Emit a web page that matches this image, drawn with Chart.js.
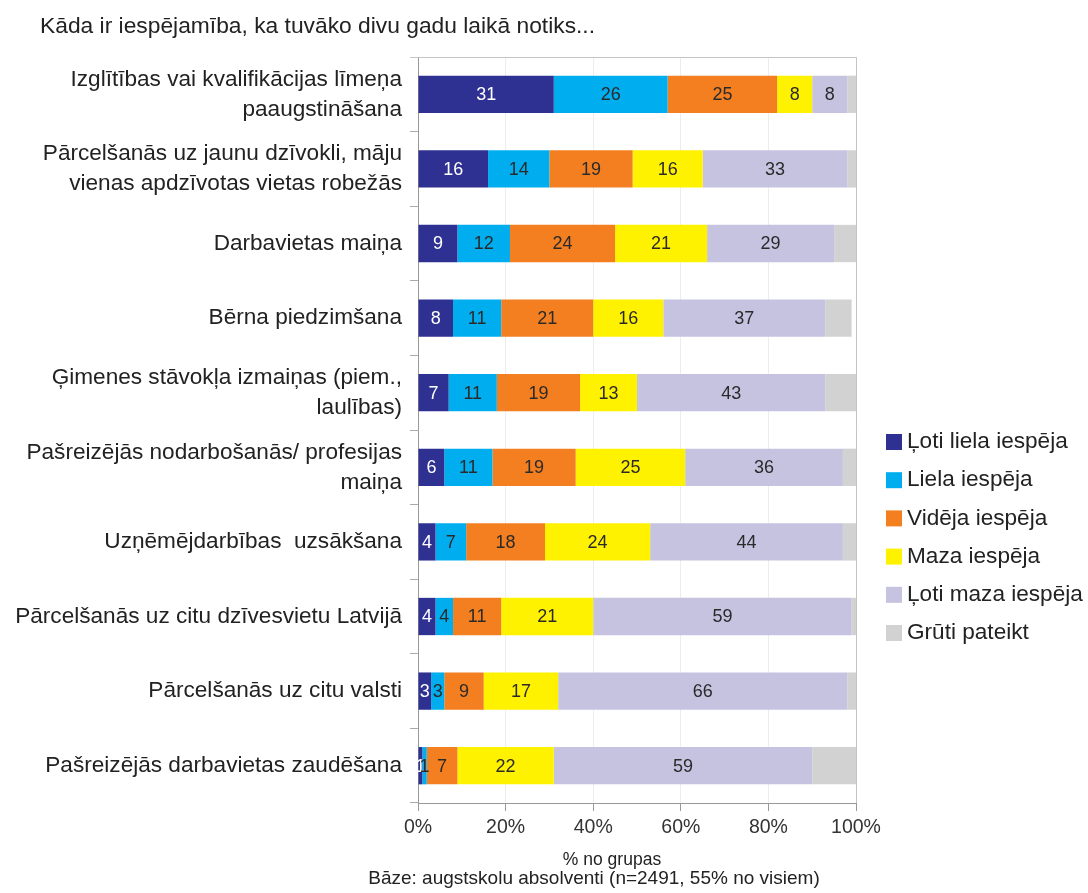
<!DOCTYPE html>
<html>
<head>
<meta charset="utf-8">
<script src="https://cdn.jsdelivr.net/npm/chart.js@4.4.1/dist/chart.umd.min.js"></script>
<style>
  body { margin: 0; background: #fff; }
  #wrap { width: 1088px; height: 893px; position: relative; }
</style>
</head>
<body>
<div id="wrap"><canvas id="myChart"></canvas></div>
<script>
    const titleText = 'Kāda ir iespējamība, ka tuvāko divu gadu laikā notiks...';
    const footerLines = ['% no grupas', 'Bāze: augstskolu absolventi (n=2491, 55% no visiem)'];

    const categories = [
      ['Izglītības vai kvalifikācijas līmeņa', 'paaugstināšana'],
      ['Pārcelšanās uz jaunu dzīvokli, māju', 'vienas apdzīvotas vietas robežās'],
      'Darbavietas maiņa',
      'Bērna piedzimšana',
      ['Ģimenes stāvokļa izmaiņas (piem.,', 'laulības)'],
      ['Pašreizējās nodarbošanās/ profesijas', 'maiņa'],
      'Uzņēmējdarbības  uzsākšana',
      'Pārcelšanās uz citu dzīvesvietu Latvijā',
      'Pārcelšanās uz citu valsti',
      'Pašreizējās darbavietas zaudēšana'
    ];

    const seriesNames = ['Ļoti liela iespēja', 'Liela iespēja', 'Vidēja iespēja', 'Maza iespēja', 'Ļoti maza iespēja', 'Grūti pateikt'];
    const seriesColors = ['#2e3192', '#00aeef', '#f47f20', '#fff200', '#c5c3e0', '#d2d2d2'];

    const veryHigh  = [31, 16, 9, 8, 7, 6, 4, 4, 3, 1];
    const high      = [26, 14, 12, 11, 11, 11, 7, 4, 3, 1];
    const medium    = [25, 19, 24, 21, 19, 19, 18, 11, 9, 7];
    const low       = [8, 16, 21, 16, 13, 25, 24, 21, 17, 22];
    const veryLow   = [8, 33, 29, 37, 43, 36, 44, 59, 66, 59];
    const hardToSay = [2, 2, 5, 6, 7, 3, 3, 1, 2, 10];

    const xTicks = [0, 20, 40, 60, 80, 100];

    const seriesValues = [veryHigh, high, medium, low, veryLow, hardToSay];
    const datasets = seriesValues.map((vals, i) => ({
      label: seriesNames[i],
      data: vals,
      backgroundColor: seriesColors[i],
      borderWidth: 0,
      barPercentage: 0.5,
      categoryPercentage: 1
    }));

    const FONT = '"Liberation Sans", Arial, sans-serif';

    // texts sitting outside the axes
    const textPlugin = {
      id: 'texts',
      afterDraw(chart) {
        const ctx = chart.ctx;
        ctx.save();
        ctx.fillStyle = '#222';
        ctx.textBaseline = 'middle';
        ctx.font = '22.8px ' + FONT;
        ctx.fillText(titleText, 40, 27);
        ctx.textAlign = 'center';
        ctx.font = '17.5px ' + FONT;
        ctx.fillText(footerLines[0], 612, 860);
        ctx.font = '19px ' + FONT;
        ctx.fillText(footerLines[1], 594, 879);
        ctx.restore();
      }
    };

    // plot frame (top + right)
    const framePlugin = {
      id: 'frame',
      beforeDatasetsDraw(chart) {
        const { ctx, chartArea: a } = chart;
        ctx.save();
        ctx.strokeStyle = '#c4c4c4';
        ctx.lineWidth = 1;
        ctx.beginPath();
        ctx.moveTo(a.left - 8, a.top + 0.5);
        ctx.lineTo(a.right + 0.5, a.top + 0.5);
        ctx.lineTo(a.right + 0.5, a.bottom);
        ctx.stroke();
        ctx.restore();
      }
    };

    // values in the middle of each segment
    const valuePlugin = {
      id: 'values',
      afterDatasetsDraw(chart) {
        const ctx = chart.ctx;
        ctx.save();
        ctx.font = '18px ' + FONT;
        ctx.textAlign = 'center';
        ctx.textBaseline = 'middle';
        chart.data.datasets.forEach((ds, i) => {
          if (i === 5) return;
          const meta = chart.getDatasetMeta(i);
          meta.data.forEach((bar, j) => {
            ctx.fillStyle = i === 0 ? '#ffffff' : '#2a2a2a';
            ctx.fillText(ds.data[j], (bar.x + bar.base) / 2, bar.y + 1);
          });
        });
        ctx.restore();
      }
    };

    // legend on the right
    const legendPlugin = {
      id: 'sideLegend',
      afterDraw(chart) {
        const ctx = chart.ctx;
        ctx.save();
        ctx.font = '22.6px ' + FONT;
        ctx.textBaseline = 'middle';
        chart.data.datasets.forEach((ds, i) => {
          const y = 442 + i * 38.2;
          ctx.fillStyle = ds.backgroundColor;
          ctx.fillRect(886, y - 8, 16, 16);
          ctx.fillStyle = '#222';
          ctx.fillText(ds.label, 907, y);
        });
        ctx.restore();
      }
    };

    const config = {
      type: 'bar',
      data: { labels: categories, datasets },
      options: {
        indexAxis: 'y',
        responsive: true,
        maintainAspectRatio: false,
        animation: false,
        layout: { padding: { top: 57, right: 232, left: 0, bottom: 0 } },
        scales: {
          x: {
            stacked: true,
            min: 0,
            max: 100,
            afterFit: (scale) => { scale.height = 90; },
            afterBuildTicks: (scale) => { scale.ticks = xTicks.map(v => ({ value: v })); },
            ticks: {
              callback: (v) => v + '%',
              color: '#333',
              font: { family: FONT, size: 19.5 },
              padding: 5,
              maxRotation: 0
            },
            grid: { color: '#ededed', tickColor: '#999', tickLength: 8 },
            border: { color: '#999' }
          },
          y: {
            stacked: true,
            afterFit: (scale) => { scale.width = 418; },
            ticks: {
              color: '#222',
              font: { family: FONT, size: 22.6, lineHeight: 1.33 },
              padding: 8,
              autoSkip: false
            },
            grid: { drawOnChartArea: false, color: '#aaa', tickLength: 8, offset: true },
            border: { color: '#999' }
          }
        },
        plugins: {
          legend: { display: false },
          tooltip: { enabled: false }
        }
      },
      plugins: [framePlugin, valuePlugin, legendPlugin, textPlugin]
    };

    const myChart = new Chart(document.getElementById('myChart'), config);
</script>
</body>
</html>
